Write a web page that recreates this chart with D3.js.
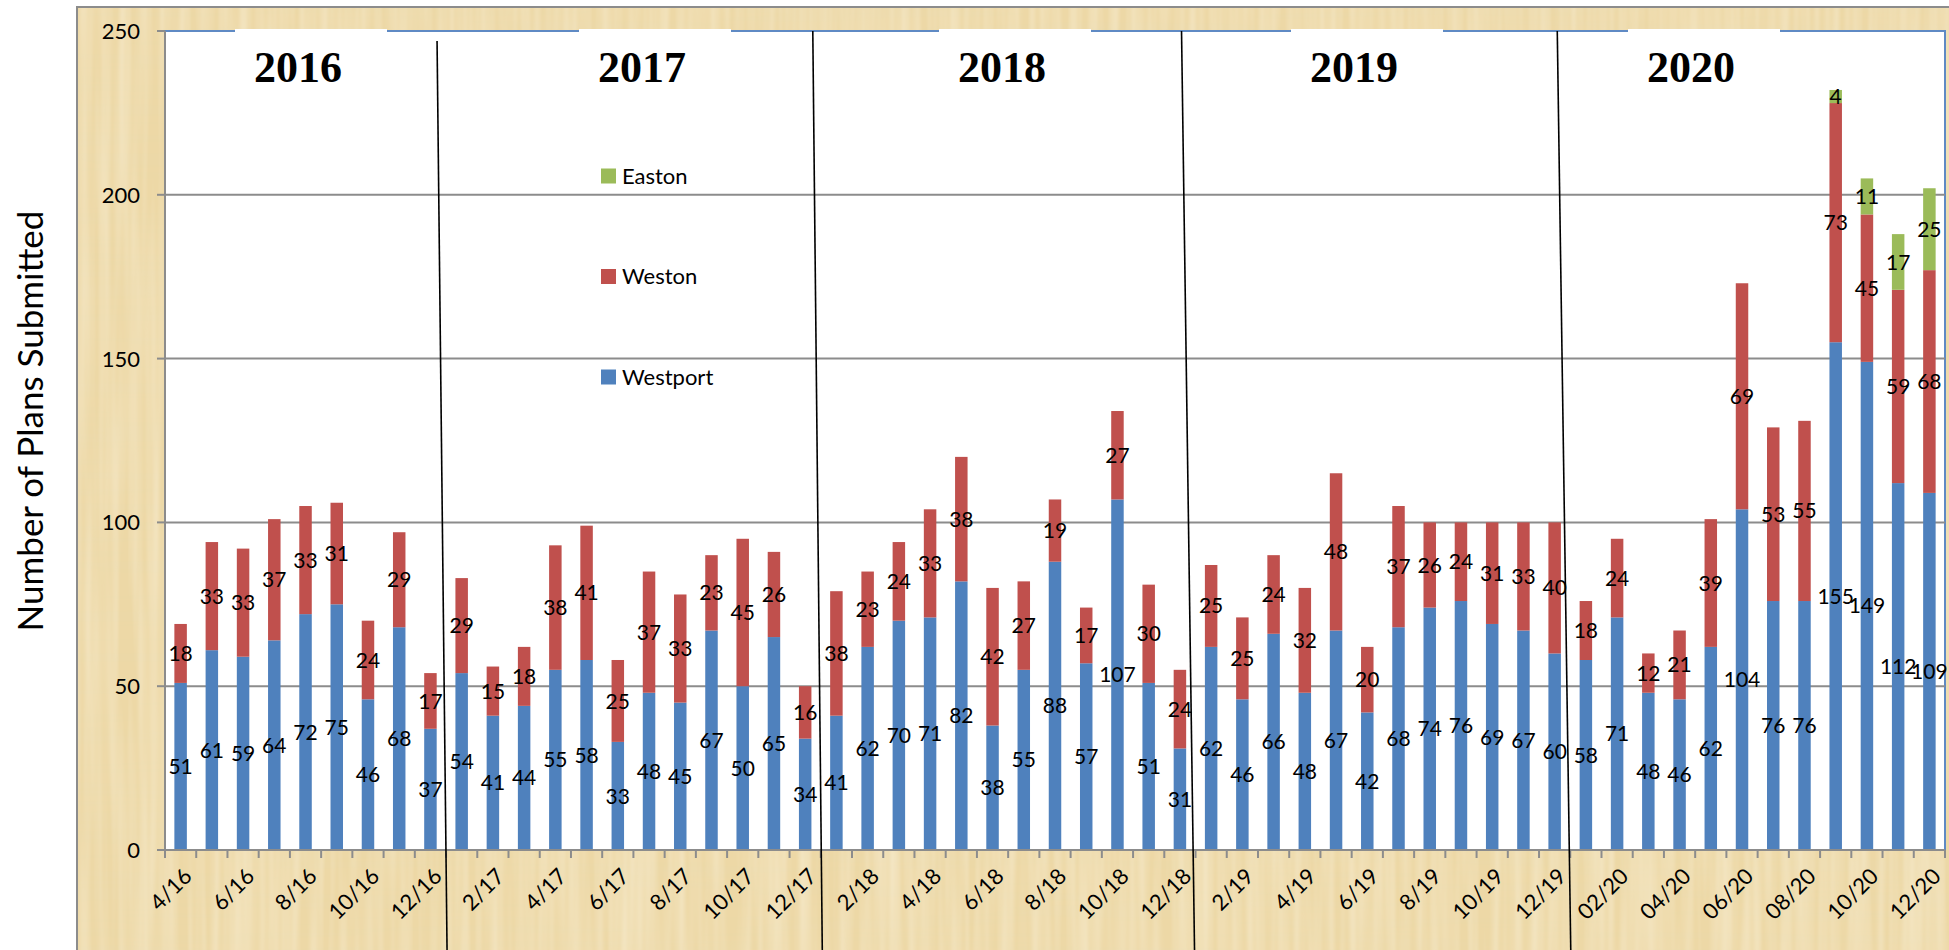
<!DOCTYPE html>
<html lang="en">

<head>
    <meta charset="UTF-8">
    <script src="https://cdn.jsdelivr.net/npm/d3@7"></script>
    <title>Plans Submitted</title>
    <style>
        body {
            margin: 0;
            background: #fff;
        }
        text {
            font-family: Lato, "Open Sans", sans-serif;
        }
        .year {
            font-family: "Liberation Serif", "DejaVu Serif", serif;
            font-weight: bold;
        }
    </style>
</head>

<body>
    <div id="container"></div>
    <script>
        /*-------------------------------------------------------*/
        /*------------------------ data -------------------------*/
        /*-------------------------------------------------------*/
        const months = [
            "4/16", "5/16", "6/16", "7/16", "8/16", "9/16", "10/16", "11/16", "12/16",
            "1/17", "2/17", "3/17", "4/17", "5/17", "6/17", "7/17", "8/17", "9/17", "10/17", "11/17", "12/17",
            "1/18", "2/18", "3/18", "4/18", "5/18", "6/18", "7/18", "8/18", "9/18", "10/18", "11/18", "12/18",
            "1/19", "2/19", "3/19", "4/19", "5/19", "6/19", "7/19", "8/19", "9/19", "10/19", "11/19", "12/19",
            "01/20", "02/20", "03/20", "04/20", "05/20", "06/20", "07/20", "08/20", "09/20", "10/20", "11/20", "12/20"
        ]
        const westport = [
            51, 61, 59, 64, 72, 75, 46, 68, 37,
            54, 41, 44, 55, 58, 33, 48, 45, 67, 50, 65, 34,
            41, 62, 70, 71, 82, 38, 55, 88, 57, 107, 51, 31,
            62, 46, 66, 48, 67, 42, 68, 74, 76, 69, 67, 60,
            58, 71, 48, 46, 62, 104, 76, 76, 155, 149, 112, 109
        ]
        const weston = [
            18, 33, 33, 37, 33, 31, 24, 29, 17,
            29, 15, 18, 38, 41, 25, 37, 33, 23, 45, 26, 16,
            38, 23, 24, 33, 38, 42, 27, 19, 17, 27, 30, 24,
            25, 25, 24, 32, 48, 20, 37, 26, 24, 31, 33, 40,
            18, 24, 12, 21, 39, 69, 53, 55, 73, 45, 59, 68
        ]
        const easton = [
            0, 0, 0, 0, 0, 0, 0, 0, 0,
            0, 0, 0, 0, 0, 0, 0, 0, 0, 0, 0, 0,
            0, 0, 0, 0, 0, 0, 0, 0, 0, 0, 0, 0,
            0, 0, 0, 0, 0, 0, 0, 0, 0, 0, 0, 0,
            0, 0, 0, 0, 0, 0, 0, 0, 4, 11, 17, 25
        ]
        const seriesNames = ["Westport", "Weston", "Easton"]
        const legendOrder = ["Easton", "Weston", "Westport"]
        const years = ["2016", "2017", "2018", "2019", "2020"]
        const yTicks = [0, 50, 100, 150, 200, 250]

        /*-------------------------------------------------------*/
        /*------------------------ layout -----------------------*/
        /*-------------------------------------------------------*/
        const W = 1949, H = 950
        const plot = { left: 165, right: 1945, top: 31, bottom: 850 }
        const colors = { Westport: "#4F81BD", Weston: "#C0504D", Easton: "#9BBB59" }
        const gridColor = "#8c8c8c"
        // white boxes behind the year titles (centre x) and the titles themselves
        const yearBoxX = [311, 655, 1015, 1367, 1704]
        const yearTextDx = -13
        // hand drawn separators: offset of top / bottom end from the year boundary
        const sepOffsets = [[-9, 1, 41], [-8, 1.5, 31], [-14, -1, 31], [-13, 0.5, 31]]

        const rows = months.map((m, i) => ({
            month: m, Westport: westport[i], Weston: weston[i], Easton: easton[i]
        }))
        const stack = d3.stack().keys(seriesNames)(rows)

        const x = d3.scaleBand()
            .domain(months)
            .range([plot.left, plot.right])
            .paddingInner(0.6)
            .paddingOuter(0.3)
        const y = d3.scaleLinear()
            .domain([0, 250])
            .range([plot.bottom, plot.top])

        const svg = d3.select("#container").append("svg")
            .attr("width", W)
            .attr("height", H)

        /*-------------------------------------------------------*/
        /*------------------ papyrus background -----------------*/
        /*-------------------------------------------------------*/
        const defs = svg.append("defs")
        // darker horizontal fibres
        const f1 = defs.append("filter").attr("id", "fibresH")
            .attr("x", 0).attr("y", 0).attr("width", 1).attr("height", 1)
        f1.append("feTurbulence").attr("type", "fractalNoise")
            .attr("baseFrequency", "0.004 0.12").attr("numOctaves", 2).attr("seed", 4)
        f1.append("feColorMatrix").attr("type", "matrix")
            .attr("values", "0 0 0 0 0.80  0 0 0 0 0.68  0 0 0 0 0.40  0.55 0 0 0 -0.2")
        // lighter vertical fibres
        const f2 = defs.append("filter").attr("id", "fibresV")
            .attr("x", 0).attr("y", 0).attr("width", 1).attr("height", 1)
        f2.append("feTurbulence").attr("type", "fractalNoise")
            .attr("baseFrequency", "0.1 0.004").attr("numOctaves", 2).attr("seed", 9)
        f2.append("feColorMatrix").attr("type", "matrix")
            .attr("values", "0 0 0 0 1  0 0 0 0 0.97  0 0 0 0 0.88  0.6 0 0 0 -0.18")

        svg.append("rect")
            .attr("x", 77).attr("y", 7)
            .attr("width", W - 77).attr("height", H - 7)
            .attr("fill", "#EDD8A6")
        svg.append("rect")
            .attr("x", 77).attr("y", 7)
            .attr("width", W - 77).attr("height", H - 7)
            .attr("filter", "url(#fibresH)")
        svg.append("rect")
            .attr("x", 77).attr("y", 7)
            .attr("width", W - 77).attr("height", H - 7)
            .attr("filter", "url(#fibresV)")
        svg.append("path")
            .attr("d", `M77,${H}V7H${W}`)
            .attr("fill", "none")
            .attr("stroke", gridColor)
            .attr("stroke-width", 2)

        /*-------------------------------------------------------*/
        /*----------------------- plot area ---------------------*/
        /*-------------------------------------------------------*/
        svg.append("rect")
            .attr("x", plot.left).attr("y", plot.top)
            .attr("width", plot.right - plot.left).attr("height", plot.bottom - plot.top)
            .attr("fill", "#fff")
            .attr("stroke", "#5f8ac4")
            .attr("stroke-width", 2)

        // gridlines
        svg.append("g")
            .selectAll("line")
            .data(yTicks.filter(t => t > 0 && t < 250))
            .enter()
            .append("line")
            .attr("x1", plot.left).attr("x2", plot.right)
            .attr("y1", d => y(d)).attr("y2", d => y(d))
            .attr("stroke", gridColor)
            .attr("stroke-width", 2)

        // year title boxes (cover the top border)
        svg.append("g")
            .selectAll("rect")
            .data(years)
            .enter()
            .append("rect")
            .attr("x", (d, i) => yearBoxX[i] - 76)
            .attr("y", plot.top - 2)
            .attr("width", 152)
            .attr("height", 60)
            .attr("fill", "#fff")

        /*-------------------------------------------------------*/
        /*------------------------ bars -------------------------*/
        /*-------------------------------------------------------*/
        const layers = svg.append("g")
            .selectAll("g")
            .data(stack)
            .enter()
            .append("g")
            .attr("fill", d => colors[d.key])

        layers.selectAll("rect")
            .data(d => d)
            .enter()
            .append("rect")
            .attr("x", d => x(d.data.month))
            .attr("width", x.bandwidth())
            .attr("y", d => y(d[1]))
            .attr("height", d => y(d[0]) - y(d[1]))

        // data labels
        layers.selectAll("text")
            .data(d => d.filter(v => v[1] - v[0] > 0))
            .enter()
            .append("text")
            .attr("x", d => x(d.data.month) + x.bandwidth() / 2)
            .attr("y", d => y((d[0] + d[1]) / 2))
            .attr("dy", "0.36em")
            .attr("text-anchor", "middle")
            .attr("font-size", 21)
            .attr("fill", "#000")
            .text(d => d[1] - d[0])

        /*-------------------------------------------------------*/
        /*------------------------ axes -------------------------*/
        /*-------------------------------------------------------*/
        const yAxis = svg.append("g")
        yAxis.append("line")
            .attr("x1", plot.left).attr("x2", plot.left)
            .attr("y1", plot.top).attr("y2", plot.bottom)
            .attr("stroke", gridColor).attr("stroke-width", 2)
        yAxis.selectAll(".tick")
            .data(yTicks)
            .enter()
            .append("line")
            .attr("x1", plot.left - 8).attr("x2", plot.left)
            .attr("y1", d => y(d)).attr("y2", d => y(d))
            .attr("stroke", gridColor).attr("stroke-width", 2)
        yAxis.selectAll("text")
            .data(yTicks)
            .enter()
            .append("text")
            .attr("x", 140)
            .attr("y", d => y(d))
            .attr("dy", "0.36em")
            .attr("text-anchor", "end")
            .attr("font-size", 22)
            .text(d => d)

        svg.append("text")
            .attr("transform", "translate(43,421) rotate(-90)")
            .attr("text-anchor", "middle")
            .attr("font-size", 35)
            .text("Number of Plans Submitted")

        const xAxis = svg.append("g")
        xAxis.append("line")
            .attr("x1", plot.left).attr("x2", plot.right)
            .attr("y1", plot.bottom).attr("y2", plot.bottom)
            .attr("stroke", gridColor).attr("stroke-width", 2)
        xAxis.selectAll(".tick")
            .data(d3.range(months.length + 1))
            .enter()
            .append("line")
            .attr("x1", i => plot.left + i * x.step())
            .attr("x2", i => plot.left + i * x.step())
            .attr("y1", plot.bottom).attr("y2", plot.bottom + 8)
            .attr("stroke", gridColor).attr("stroke-width", 2)
        xAxis.selectAll("text")
            .data(months.filter((m, i) => i % 2 === 0))
            .enter()
            .append("text")
            .attr("transform", d => `translate(${x(d) + x.bandwidth() / 2 + 5},${plot.bottom + 20}) rotate(-45)`)
            .attr("text-anchor", "end")
            .attr("dy", "0.5em")
            .attr("font-size", 22)
            .text(d => d)

        /*-------------------------------------------------------*/
        /*------------------ year separators --------------------*/
        /*-------------------------------------------------------*/
        const boundaries = [9, 21, 33, 45].map(i => plot.left + i * x.step())
        svg.append("g")
            .selectAll("line")
            .data(boundaries)
            .enter()
            .append("line")
            .attr("x1", (b, i) => b + sepOffsets[i][0])
            .attr("y1", (b, i) => sepOffsets[i][2])
            .attr("x2", (b, i) => b + sepOffsets[i][1])
            .attr("y2", H)
            .attr("stroke", "#000")
            .attr("stroke-width", 1.6)

        svg.append("g")
            .selectAll("text")
            .data(years)
            .enter()
            .append("text")
            .attr("class", "year")
            .attr("x", (d, i) => yearBoxX[i] + yearTextDx)
            .attr("y", 82)
            .attr("text-anchor", "middle")
            .attr("font-size", 44)
            .text(d => d)

        /*-------------------------------------------------------*/
        /*------------------------ legend -----------------------*/
        /*-------------------------------------------------------*/
        const legend = svg.append("g")
            .selectAll("g")
            .data(legendOrder)
            .enter()
            .append("g")
            .attr("transform", (d, i) => `translate(601,${176 + i * 100.5})`)
        legend.append("rect")
            .attr("x", 0).attr("y", -7.5)
            .attr("width", 15).attr("height", 15)
            .attr("fill", d => colors[d])
        legend.append("text")
            .attr("x", 21)
            .attr("dy", "0.36em")
            .attr("font-size", 22)
            .text(d => d)
    </script>
</body>

</html>
